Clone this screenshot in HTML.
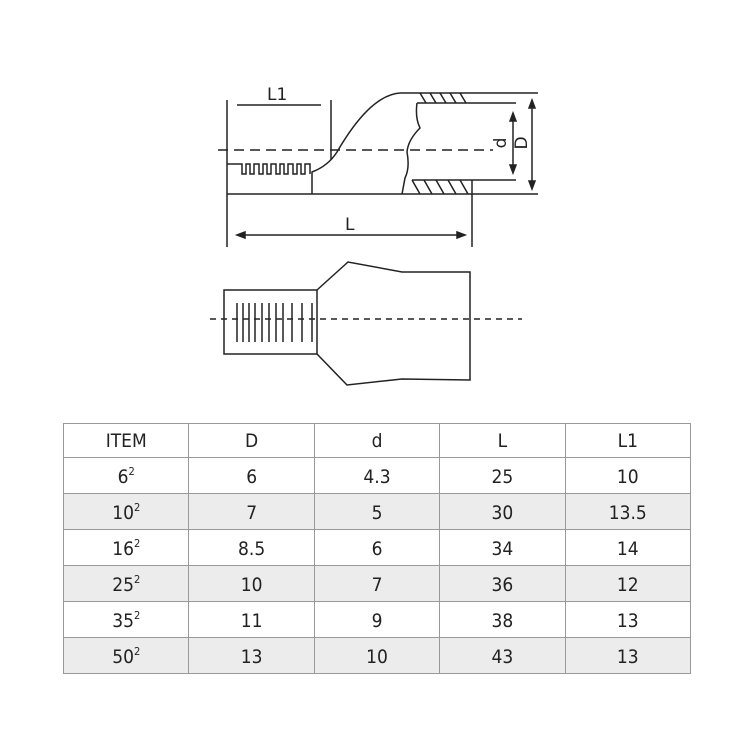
<!DOCTYPE html>
<html><head><meta charset="utf-8"><style>
body{margin:0;background:#fff;width:750px;height:750px;overflow:hidden;position:relative;font-family:"DejaVu Sans","Liberation Sans",sans-serif;}
svg{position:absolute;left:0;top:0}
table{position:absolute;left:63px;top:423px;border-collapse:collapse;width:628px;font-size:19px;color:#222}
td{border:1px solid #999;text-align:center;height:33px;padding:2px 0 0 0;width:125px;font-family:"DejaVu Sans Condensed","DejaVu Sans",sans-serif;line-height:20px}
tr:nth-child(odd) td{background:#ececec}
tr:first-child td{background:#fff;padding:0;height:33px}
sup{font-size:11px;vertical-align:8px;line-height:0}
</style></head><body>
<svg width="750" height="420" viewBox="0 0 750 420" fill="none" stroke="#222" stroke-width="1.5">
<line x1="227" y1="100" x2="227" y2="247"/>
<line x1="237" y1="105" x2="321" y2="105"/>
<line x1="331" y1="100" x2="331" y2="160"/>
<line x1="218" y1="150" x2="493" y2="150" stroke-dasharray="10,6"/>
<line x1="227" y1="194" x2="538" y2="194"/>
<line x1="400" y1="93" x2="538" y2="93"/>
<line x1="417" y1="103" x2="516" y2="103"/>
<line x1="412" y1="180" x2="516" y2="180"/>
<path d="M227 164 H242 V174 H246 V164 H250 V174 H254 V164 H259 V174 H263 V164 H267 V174 H271 V164 H276 V174 H280 V164 H284 V174 H288 V164 H293 V174 H297 V164 H301 V174 H305 V164 H310 V174"/>
<path d="M312 194 V172 Q328 166 337 152 Q370 95 400 93"/>
<path d="M417 103 Q415 118 420 128 Q408 140 407 152 Q410 168 405 178 L402 194"/>
<path d="M420 93 l6 10 M430 93 l6 10 M440 93 l6 10 M450 93 l6 10 M460 93 l6 10 M412 180 l8 14 M424 180 l8 14 M436 180 l8 14 M448 180 l8 14 M460 180 l8 14"/>
<line x1="472" y1="180" x2="472" y2="247"/>
<line x1="240" y1="235" x2="462" y2="235"/>
<path d="M237 235 l8 -3 v6 z M465 235 l-8 -3 v6 z" fill="#222"/>
<line x1="513" y1="116" x2="513" y2="170"/>
<path d="M513 113 l-3 8 h6 z M513 173 l-3 -8 h6 z" fill="#222"/>
<line x1="532" y1="103" x2="532" y2="186"/>
<path d="M532 100 l-3 8 h6 z M532 189 l-3 -8 h6 z" fill="#222"/>
<g fill="#222" stroke="none" font-family="DejaVu Sans,sans-serif" font-size="17">
<text x="267" y="100">L1</text>
<text x="345" y="230">L</text>
<text transform="translate(506,143) rotate(-90)" text-anchor="middle">d</text>
<text transform="translate(527,143) rotate(-90)" text-anchor="middle">D</text>
</g>
<rect x="224" y="290" width="93" height="64"/>
<path d="M317 290 L348 262 L402 272 L470 272 L470 380 L402 379 L347 385 L317 354"/>
<line x1="210" y1="319" x2="522" y2="319" stroke-dasharray="6,5"/>
<path d="M237 303 V342 M243 303 V342 M249 303 V342 M255 303 V342 M262 303 V342 M269 303 V342 M276 303 V342 M283 303 V342 M292 303 V342 M302 303 V342 M312 303 V342"/>
</svg>
<table>
<tr><td>ITEM</td><td>D</td><td>d</td><td>L</td><td>L1</td></tr>
<tr><td>6<sup>2</sup></td><td>6</td><td>4.3</td><td>25</td><td>10</td></tr>
<tr><td>10<sup>2</sup></td><td>7</td><td>5</td><td>30</td><td>13.5</td></tr>
<tr><td>16<sup>2</sup></td><td>8.5</td><td>6</td><td>34</td><td>14</td></tr>
<tr><td>25<sup>2</sup></td><td>10</td><td>7</td><td>36</td><td>12</td></tr>
<tr><td>35<sup>2</sup></td><td>11</td><td>9</td><td>38</td><td>13</td></tr>
<tr><td>50<sup>2</sup></td><td>13</td><td>10</td><td>43</td><td>13</td></tr>
</table>
</body></html>
